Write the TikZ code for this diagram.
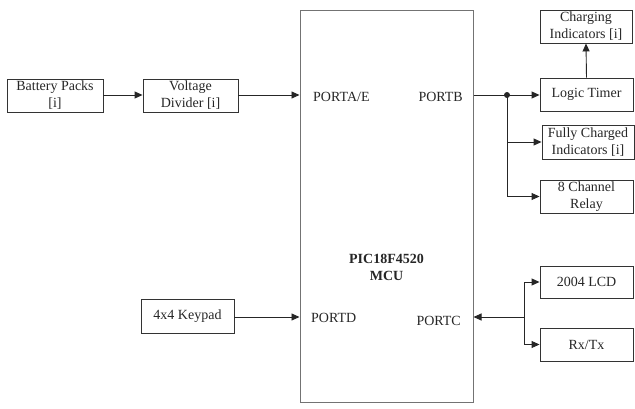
\documentclass[tikz,border=0pt]{standalone}
\usepackage{fontspec}
\setmainfont{Liberation Serif}
\usetikzlibrary{arrows.meta}
\begin{document}
\begin{tikzpicture}[x=1pt,y=-1pt,
  every node/.style={font=\fontsize{14}{17}\selectfont},
  blk/.style={draw=black!80,line width=0.9pt,minimum width=93pt,minimum height=33pt,inner sep=1pt,align=center,text=black!85},
  lbl/.style={inner sep=0pt,text=black!85},
  conn/.style={draw=black!85,line width=0.9pt},
  arr/.style={conn,-{Triangle[length=8pt,width=7pt]}}]
\useasboundingbox (0,0) rectangle (635,408);
\node[blk,minimum width=96pt] (bat) at (55,95.5) {Battery Packs\\{[i]}};
\node[blk,minimum width=95pt] (vd) at (190.5,95.5) {Voltage\\Divider [i]};
\node[draw=black!55,line width=1pt,minimum width=173pt,minimum height=392pt,inner sep=0pt] (mcu) at (386.5,206) {};
\node[lbl,font=\fontsize{14}{17}\selectfont\bfseries,align=center] (mcut) at (386.5,267) {PIC18F4520\\MCU};
\node[blk,minimum width=92pt] (chg) at (586,26.5) {Charging\\Indicators [i]};
\node[blk] (lt) at (586.5,94.5) {Logic Timer};
\node[blk,minimum width=92pt,minimum height=34pt] (fc) at (588,142) {Fully Charged\\Indicators [i]};
\node[blk] (relay) at (586.5,196.5) {8 Channel\\Relay};
\node[blk,minimum height=32pt] (lcd) at (586.5,282) {2004 LCD};
\node[blk] (rx) at (586.5,344.5) {Rx/Tx};
\node[blk,minimum height=34pt] (kp) at (187.5,316) {4x4 Keypad};
\node[lbl,anchor=west] (pa) at (313,97) {PORTA/E};
\node[lbl,anchor=east] (pb) at (463,97) {PORTB};
\node[lbl,anchor=west] (pd) at (311,318) {PORTD};
\node[lbl,anchor=east] (pc) at (461,321) {PORTC};
\coordinate (jb) at (507,95);
\coordinate (jc) at (524,317);
\draw[arr] (bat.east |- 0,95) -- (vd.west |- 0,95);
\draw[arr] (vd.east |- 0,95) -- (mcu.west |- 0,95);
\draw[conn] (mcu.east |- jb) -- (jb);
\fill[black!85] (jb) circle (3pt);
\draw[arr] (jb) -- (lt.west |- jb);
\draw[arr] (jb) |- (relay.west);
\draw[arr] (jb |- fc.west) -- (fc.west);
\draw[arr] (lt.north) -- (chg.south);
\draw[arr] (kp.east |- 0,317) -- (mcu.west |- 0,317);
\draw[arr] (jc) -- (mcu.east |- jc);
\draw[arr] (jc) |- (lcd.west);
\draw[arr] (jc) |- (rx.west);
\end{tikzpicture}
\end{document}
